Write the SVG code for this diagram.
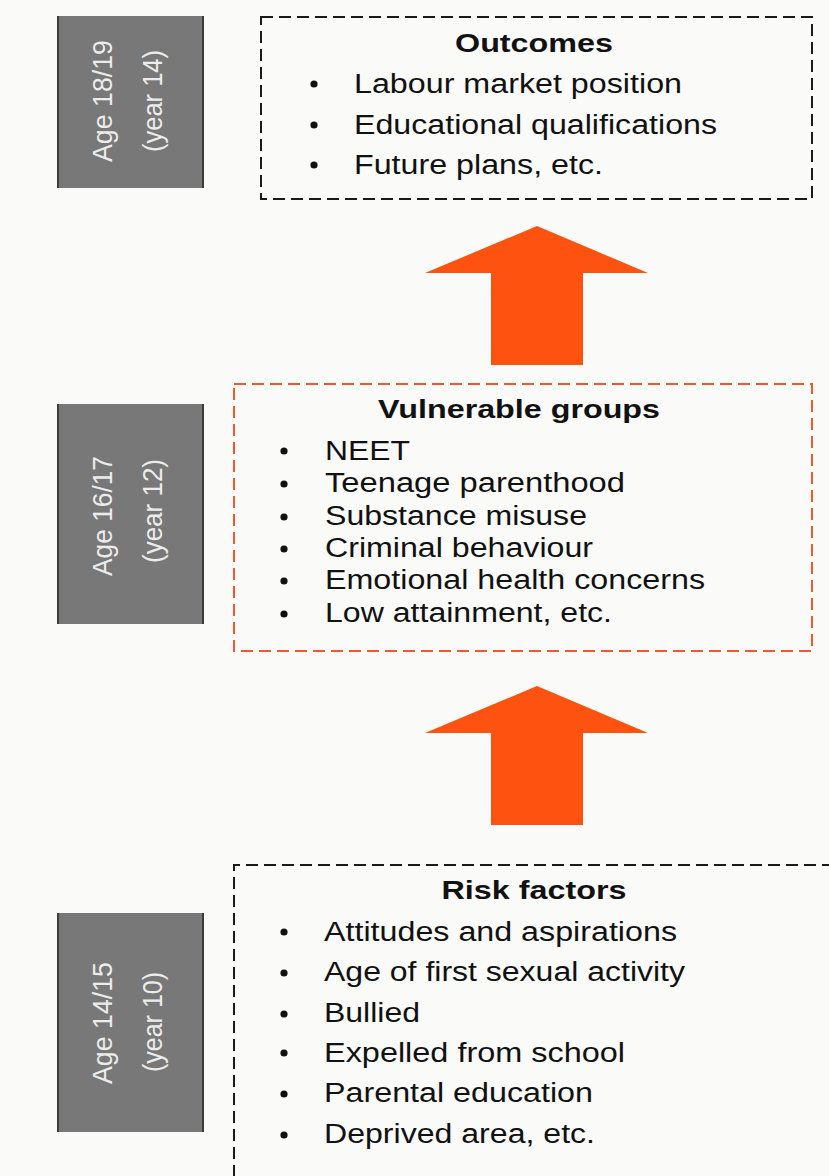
<svg xmlns="http://www.w3.org/2000/svg" width="829" height="1176" viewBox="0 0 829 1176">
<style>
.bg{fill:#fafaf9}
.age rect{fill:#787878}
.age line{stroke:#3c3c3c;stroke-width:2}
.age text{font-family:"Liberation Sans",Arial,sans-serif;font-size:27px;fill:#ececec;text-anchor:middle}
.box{fill:none;stroke-width:2;stroke-dasharray:12 6}
.blk{stroke:#1a1a1a}
.org{stroke:#f2582a}
.title{font-family:"Liberation Sans",Arial,sans-serif;font-size:26px;font-weight:bold;fill:#111;text-anchor:middle}
.item{font-family:"Liberation Sans",Arial,sans-serif;font-size:27px;fill:#111}
.dot{fill:#111}
.arrow{fill:#fe5310}
</style>
<rect class="bg" x="0" y="0" width="829" height="1176"/>

<g id="age-18-19" class="age">
<rect x="57" y="16" width="147" height="172"/>
<line x1="58" y1="16" x2="58" y2="188"/><line x1="203" y1="16" x2="203" y2="188"/>
<text transform="translate(112,101) rotate(-90)" textLength="122" lengthAdjust="spacingAndGlyphs">Age 18/19</text>
<text transform="translate(162,101) rotate(-90)" textLength="102" lengthAdjust="spacingAndGlyphs">(year 14)</text>
</g>

<g id="age-16-17" class="age">
<rect x="57" y="404" width="147" height="220"/>
<line x1="58" y1="404" x2="58" y2="624"/><line x1="203" y1="404" x2="203" y2="624"/>
<text transform="translate(112,516) rotate(-90)" textLength="120" lengthAdjust="spacingAndGlyphs">Age 16/17</text>
<text transform="translate(162,511) rotate(-90)" textLength="104" lengthAdjust="spacingAndGlyphs">(year 12)</text>
</g>

<g id="age-14-15" class="age">
<rect x="57" y="913" width="147" height="219"/>
<line x1="58" y1="913" x2="58" y2="1132"/><line x1="203" y1="913" x2="203" y2="1132"/>
<text transform="translate(112,1023) rotate(-90)" textLength="122" lengthAdjust="spacingAndGlyphs">Age 14/15</text>
<text transform="translate(162,1022) rotate(-90)" textLength="100" lengthAdjust="spacingAndGlyphs">(year 10)</text>
</g>

<g id="outcomes">
<rect class="box blk" x="261" y="17" width="551" height="182"/>
<text class="title" x="534" y="52" textLength="158" lengthAdjust="spacingAndGlyphs">Outcomes</text>
<circle class="dot" cx="314" cy="84" r="3.6"/>
<circle class="dot" cx="314" cy="125" r="3.6"/>
<circle class="dot" cx="314" cy="165" r="3.6"/>
<text class="item" x="354" y="93" textLength="328" lengthAdjust="spacingAndGlyphs">Labour market position</text>
<text class="item" x="354" y="134" textLength="363" lengthAdjust="spacingAndGlyphs">Educational qualifications</text>
<text class="item" x="354" y="174" textLength="249" lengthAdjust="spacingAndGlyphs">Future plans, etc.</text>
</g>

<g id="vulnerable-groups">
<rect class="box org" x="234" y="384" width="578" height="267"/>
<text class="title" x="519" y="418" textLength="282" lengthAdjust="spacingAndGlyphs">Vulnerable groups</text>
<circle class="dot" cx="284" cy="451" r="3.6"/>
<circle class="dot" cx="284" cy="484" r="3.6"/>
<circle class="dot" cx="284" cy="517" r="3.6"/>
<circle class="dot" cx="284" cy="549" r="3.6"/>
<circle class="dot" cx="284" cy="581" r="3.6"/>
<circle class="dot" cx="284" cy="614" r="3.6"/>
<text class="item" x="325" y="460" textLength="85" lengthAdjust="spacingAndGlyphs">NEET</text>
<text class="item" x="325" y="492" textLength="300" lengthAdjust="spacingAndGlyphs">Teenage parenthood</text>
<text class="item" x="325" y="525" textLength="262" lengthAdjust="spacingAndGlyphs">Substance misuse</text>
<text class="item" x="325" y="557" textLength="268" lengthAdjust="spacingAndGlyphs">Criminal behaviour</text>
<text class="item" x="325" y="589" textLength="380" lengthAdjust="spacingAndGlyphs">Emotional health concerns</text>
<text class="item" x="325" y="622" textLength="287" lengthAdjust="spacingAndGlyphs">Low attainment, etc.</text>
</g>

<g id="risk-factors">
<path class="box blk" d="M834 865 H234 V1180"/>
<text class="title" x="534" y="899" textLength="185" lengthAdjust="spacingAndGlyphs">Risk factors</text>
<circle class="dot" cx="284" cy="932" r="3.6"/>
<circle class="dot" cx="284" cy="973" r="3.6"/>
<circle class="dot" cx="284" cy="1014" r="3.6"/>
<circle class="dot" cx="284" cy="1053" r="3.6"/>
<circle class="dot" cx="284" cy="1094" r="3.6"/>
<circle class="dot" cx="284" cy="1135" r="3.6"/>
<text class="item" x="324" y="941" textLength="353" lengthAdjust="spacingAndGlyphs">Attitudes and aspirations</text>
<text class="item" x="324" y="981" textLength="361" lengthAdjust="spacingAndGlyphs">Age of first sexual activity</text>
<text class="item" x="324" y="1022" textLength="96" lengthAdjust="spacingAndGlyphs">Bullied</text>
<text class="item" x="324" y="1062" textLength="301" lengthAdjust="spacingAndGlyphs">Expelled from school</text>
<text class="item" x="324" y="1102" textLength="269" lengthAdjust="spacingAndGlyphs">Parental education</text>
<text class="item" x="324" y="1143" textLength="271" lengthAdjust="spacingAndGlyphs">Deprived area, etc.</text>
</g>

<g id="connectors">
<polygon class="arrow" points="537,226 648,273 583,273 583,365 491,365 491,273 425,273"/>
<polygon class="arrow" points="537,686 648,733 583,733 583,825 491,825 491,733 425,733"/>
</g>
</svg>
